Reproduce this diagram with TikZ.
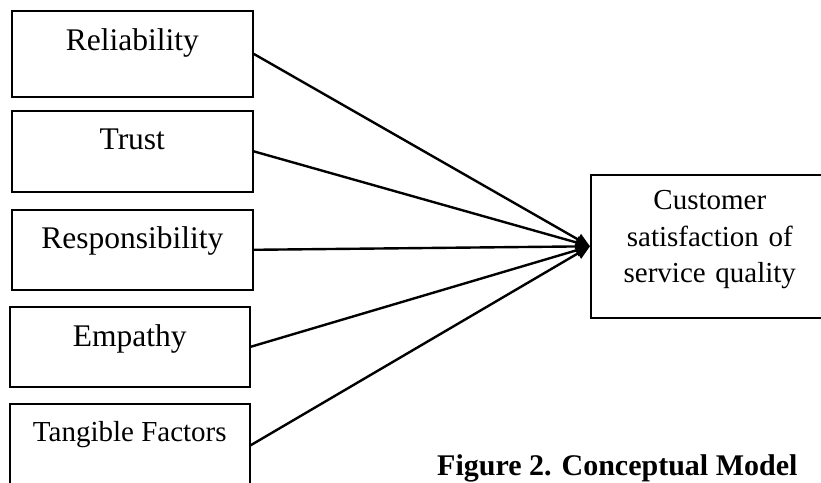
\documentclass[tikz,border=0pt]{standalone}
\usepackage{fontspec}
\setmainfont{Liberation Serif}
\usepackage{tikz}
\usetikzlibrary{arrows.meta,positioning}

\begin{document}
\begin{tikzpicture}[x=1pt, y=-1pt,
box/.style={draw, line width=1.6pt, rectangle, anchor=north west, inner sep=0pt,
minimum width=241pt, text height=39pt, text depth=42pt, align=center,
font=\fontsize{31.5}{38}\selectfont},
outbox/.style={draw, line width=1.6pt, rectangle, anchor=north west, inner sep=0pt,
text width=238pt, text height=35pt, text depth=108pt, align=center,
font=\fontsize{29}{36.5}\selectfont},
figcap/.style={anchor=base west, inner sep=0pt, font=\fontsize{30}{36}\selectfont\bfseries},
arrow/.style={-{Triangle[length=14pt, width=12pt]}, line width=2.4pt}
]
\useasboundingbox (0,0) rectangle (821,482);

\node[box, text height=40pt, text depth=46pt] (rel) at (11,10) {Reliability};
\node[box] (trust) at (11,110) {Trust};
\node[box, text depth=41pt] (resp) at (11,209) {Responsibility};
\node[box, minimum width=240pt, text height=40pt, text depth=40pt] (emp) at (9,306) {Empathy};
\node[box, minimum width=240pt, text height=38pt, text depth=45pt,
font=\fontsize{29}{36}\selectfont] (tang) at (9,403) {Tangible Factors};

\node[outbox] (cs) at (590,174) {Customer\\satisfaction of\\service quality};

\node[figcap] (fig) at (437,475) {Figure 2. Conceptual Model};

\draw[arrow] (rel.east) -- (cs.west);
\draw[arrow] (trust.east) -- (cs.west);
\draw[arrow] (resp.east) -- (cs.west);
\draw[arrow] (emp.east) -- (cs.west);
\draw[arrow] (tang.east) -- (cs.west);

\end{tikzpicture}
\end{document}
